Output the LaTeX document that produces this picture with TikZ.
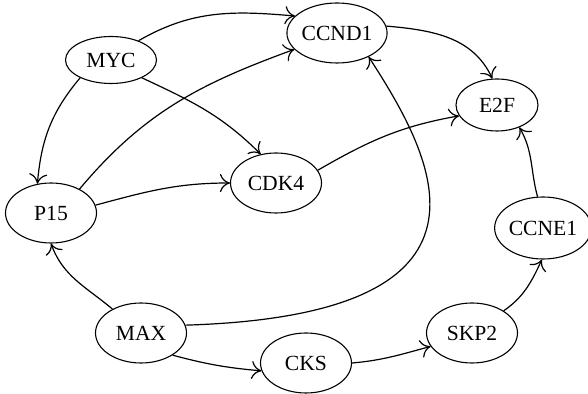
\documentclass[tikz,border=0pt]{standalone}
\usepackage{fontspec}
\setmainfont{Liberation Serif}
\usetikzlibrary{shapes.geometric,arrows.meta}
\tikzset{
  gene/.style={draw, ellipse, inner sep=0pt, minimum width=45.5pt, minimum height=30pt,
    line width=0.55pt, font=\fontsize{10.8}{12}\selectfont},
  link/.style={-{To[length=5pt,width=9pt]}, line width=0.6pt}
}

\begin{document}
\begin{tikzpicture}[x=0.5pt,y=-0.5pt]
			%%%%% START %%%%%
			\useasboundingbox (0,0) rectangle (588,394);
			
			\node[gene, minimum height=23.5pt] (myc) at (111, 60) {MYC};
			\node[gene] (ccnd1) at (337, 33) {CCND1};
			\node[gene] (p15) at (51, 213) {P15};
			\node[gene] (cdk4) at (276, 183) {CDK4};
			\node[gene, minimum width=41pt, minimum height=26pt] (e2f) at (497, 105) {E2F};
			\node[gene, minimum width=42pt, minimum height=31pt] (ccne1) at (543, 228) {CCNE1};
			\node[gene] (skp2) at (472, 333) {SKP2};
			\node[gene] (max) at (141, 333) {MAX};
			\node[gene] (cks) at (306, 363) {CKS};
			
			\draw[link] (myc.35) to[out=30, in=175] (ccnd1.158);
			\draw[link] (myc.-30) to[out=-25, in=135] (cdk4.118);
			\draw[link] (myc.210) to[out=230, in=85] (p15.115);
			
			\draw[link] (p15.40) to[out=50, in=200] (ccnd1.201);
			\draw[link] (p15.10) to[out=15, in=180] (cdk4.180);
			
			\draw[link] (ccnd1.8) to[out=-5, in=115] (e2f.100);
			\draw[link] (cdk4.17) to[out=30, in=190] (e2f.196);
			
			\draw[link] (max.140) to[out=140, in=-70] (p15.270);
			\draw[link] (max.10) .. controls (520, 315) and (435, 159) .. (ccnd1.-37);
			\draw[link] (max.-35) to[out=-15, in=175] (cks.190);
			
			\draw[link] (cks.0) to[out=5, in=195] (skp2.198);
			\draw[link] (skp2.35) to[out=35, in=-115] (ccne1.268);
			\draw[link] (ccne1.100) to[out=105, in=-60] (e2f.-45);
			
			%%%%% END %%%%%
\end{tikzpicture}
\end{document}
